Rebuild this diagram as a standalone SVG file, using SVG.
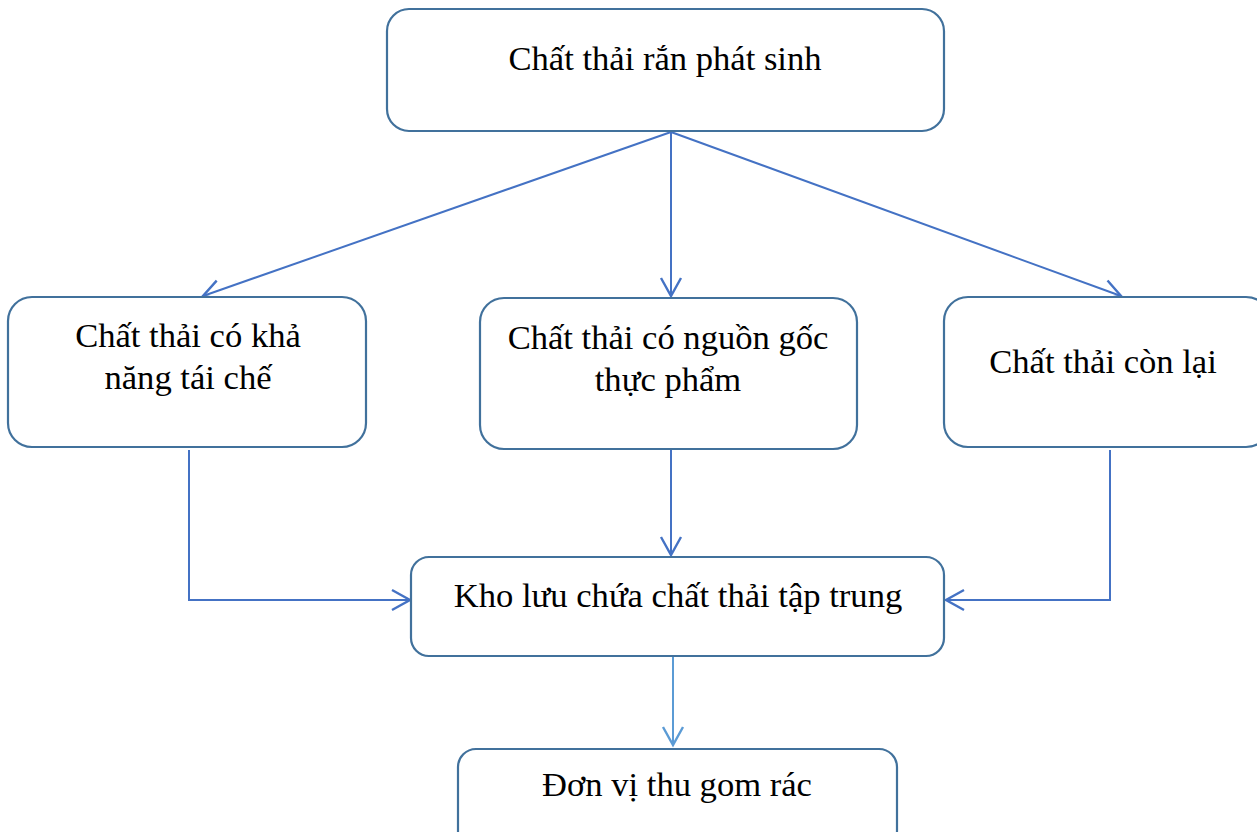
<svg xmlns="http://www.w3.org/2000/svg" width="1257" height="832" viewBox="0 0 1257 832">
  <style>
    .box { fill: #ffffff; stroke: #41719C; stroke-width: 2.2; }
    .lbl { font-family: "Liberation Serif", "Times New Roman", serif; font-size: 34.6px; fill: #000000; text-anchor: middle; }
    .link { fill: none; stroke: #4472C4; stroke-width: 2; }
    .link-light { fill: none; stroke: #5B9BD5; stroke-width: 2; }
  </style>
  <defs>
    <marker id="open" markerUnits="userSpaceOnUse" markerWidth="24" markerHeight="24" viewBox="-20 -12 24 24" refX="0" refY="0" orient="auto">
      <path d="M-18,-10 L0,0 L-18,10" fill="none" stroke="#4472C4" stroke-width="2.4"/>
    </marker>
    <marker id="open-light" markerUnits="userSpaceOnUse" markerWidth="24" markerHeight="24" viewBox="-20 -12 24 24" refX="0" refY="0" orient="auto">
      <path d="M-18,-10 L0,0 L-18,10" fill="none" stroke="#5B9BD5" stroke-width="2.4"/>
    </marker>
  </defs>

  <g id="connectors">
    <line class="link" x1="671" y1="132" x2="203" y2="296" marker-end="url(#open)"/>
    <line class="link" x1="671" y1="132" x2="671" y2="296" marker-end="url(#open)"/>
    <line class="link" x1="671" y1="132" x2="1121" y2="296" marker-end="url(#open)"/>
    <polyline class="link" points="189,450 189,600 410,600" marker-end="url(#open)"/>
    <line class="link" x1="671" y1="450" x2="671" y2="555" marker-end="url(#open)"/>
    <polyline class="link" points="1110,450 1110,600 946,600" marker-end="url(#open)"/>
    <line class="link-light" x1="673" y1="657" x2="673" y2="745" marker-end="url(#open-light)"/>
  </g>

  <g id="node-source">
    <rect class="box" x="387" y="9" width="557" height="122" rx="22"/>
    <text class="lbl" x="665" y="70">Chất thải rắn phát sinh</text>
  </g>

  <g id="node-recyclable">
    <rect class="box" x="8" y="297" width="358" height="150" rx="24"/>
    <text class="lbl" x="188" y="347">Chất thải có khả</text>
    <text class="lbl" x="188" y="389">năng tái chế</text>
  </g>

  <g id="node-food">
    <rect class="box" x="480" y="298" width="377" height="151" rx="24"/>
    <text class="lbl" x="668" y="349">Chất thải có nguồn gốc</text>
    <text class="lbl" x="668" y="391">thực phẩm</text>
  </g>

  <g id="node-other">
    <rect class="box" x="944" y="297" width="326" height="150" rx="24"/>
    <text class="lbl" x="1103" y="373">Chất thải còn lại</text>
  </g>

  <g id="node-storage">
    <rect class="box" x="411" y="557" width="533" height="99" rx="18"/>
    <text class="lbl" x="678" y="607">Kho lưu chứa chất thải tập trung</text>
  </g>

  <g id="node-collector">
    <rect class="box" x="458" y="749" width="439" height="100" rx="18"/>
    <text class="lbl" x="677" y="796">Đơn vị thu gom rác</text>
  </g>
</svg>
